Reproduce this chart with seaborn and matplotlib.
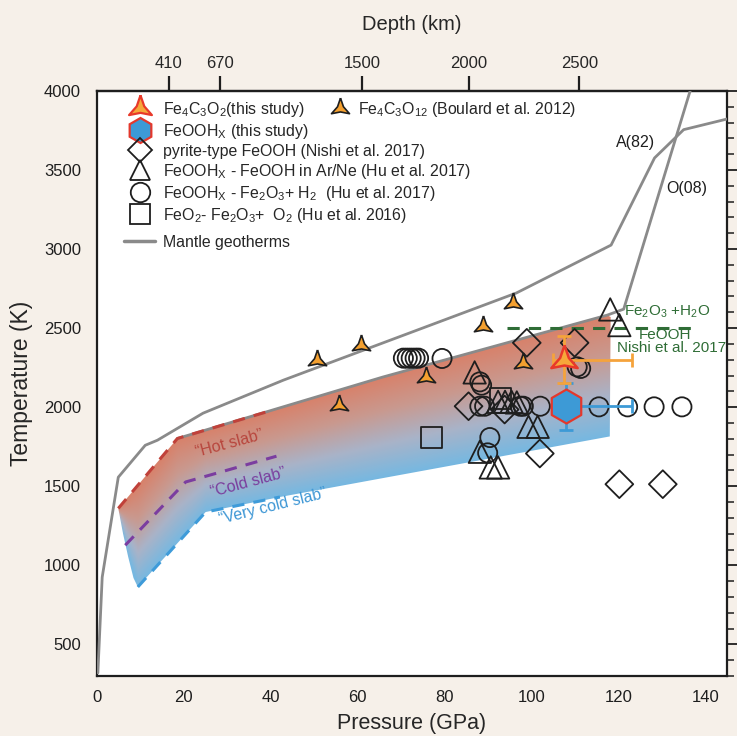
import numpy as np
import pandas as pd
import matplotlib
matplotlib.use("Agg")
import matplotlib.pyplot as plt
import seaborn as sns
from matplotlib.patches import Polygon
from matplotlib.lines import Line2D
from matplotlib.colors import LinearSegmentedColormap
from matplotlib.ticker import MultipleLocator

# ---------------- data ----------------
geo_a_P = [0.2, 1.2, 4.9, 11.1, 13.9, 24.4, 42.9, 96.5, 118.3, 128.3, 135.0, 146.0]
geo_a_T = [320, 925, 1557, 1759, 1791, 1962, 2171, 2722, 3025, 3576, 3755, 3829]
geo_o_P = [18.5, 65.7, 117.4, 121.2, 136.6]
geo_o_T = [1802, 2190, 2582, 2620, 4010]

hot_P = [4.9, 18.5, 39.0]
hot_T = [1360, 1802, 1970]
cold_P = [6.5, 20.4, 41.3]
cold_T = [1127, 1527, 1690]
vcold_P = [9.4, 25.0, 42.1]
vcold_T = [863, 1337, 1432]

# slab-region outline (clockwise from hot-slab start)
shade_P = [4.9, 18.5, 65.7, 117.4, 118.2, 118.0, 42.1, 25.0, 9.4, 8.4, 7.2, 6.0]
shade_T = [1360, 1802, 2190, 2582, 2570, 1815, 1432, 1337, 863, 920, 1051, 1200]

boulard_P = [50.6, 60.8, 55.6, 75.7, 88.9, 95.8, 98.0]
boulard_T = [2297, 2392, 2013, 2192, 2513, 2656, 2277]

fe4c3o2_P = [107.5]
fe4c3o2_T = [2300]
fe4c3o2_xerr = [[2.5], [15.5]]
fe4c3o2_yerr = [[150], [150]]

feoohx_P = [108.0]
feoohx_T = [2006]
feoohx_xerr = [[2.0], [15.0]]
feoohx_yerr = [[150], [150]]

nishi_P = [98.9, 109.9, 85.5, 93.8, 101.9, 120.2, 130.2]
nishi_T = [2407, 2407, 2006, 1985, 1707, 1513, 1513]

hu_arne_P = [118.1, 120.2, 86.9, 92.3, 93.9, 95.4, 96.6, 99.3, 101.4, 88.1, 90.6, 92.3]
hu_arne_T = [2618, 2519, 2220, 2034, 2034, 2034, 2030, 1876, 1876, 1718, 1619, 1619]

hu_h2_P = [70.5, 71.4, 72.3, 73.2, 74.0, 79.4, 88.1, 88.5, 88.1, 89.2, 97.4, 98.1,
           102.0, 90.4, 89.9, 110.5, 111.3, 115.5, 122.1, 128.2, 134.6]
hu_h2_T = [2310, 2310, 2310, 2310, 2310, 2308, 2160, 2139, 2006, 2006, 2006, 2006,
           2006, 1808, 1711, 2255, 2245, 2002, 2002, 2002, 2002]

hu16_P = [76.9, 92.9]
hu16_T = [1808, 2055]

nishi_line_P = [94.3, 137.6]
nishi_line_T = [2500, 2500]

depth_km = ["410", "670", "1500", "2000", "2500"]
depth_P = [16.5, 28.3, 61.0, 85.5, 111.0]

# ---------------- style ----------------
sns.set_style("white")
plt.rcParams["font.family"] = ["Liberation Sans", "DejaVu Sans"]
plt.rcParams["mathtext.default"] = "regular"

BG = "#f6f0e9"
fig = plt.figure(figsize=(7.37, 7.36), dpi=100, facecolor=BG)
ax = fig.add_axes([0.1316, 0.0815, 0.855, 0.795])
ax.set_facecolor("white")

# three-pointed concave star marker
ang = np.deg2rad(np.arange(6) * 60 + 90)
rad = np.array([1.0, 0.33] * 3)
star3 = list(zip(rad * np.cos(ang), rad * np.sin(ang)))
star3.append(star3[0])

# ---------------- gradient slab region ----------------
gx = np.linspace(4, 119, 300)
gy = np.linspace(800, 2650, 300)
GX, GY = np.meshgrid(gx, gy)
top_b = np.interp(GX, [4.9, 18.5, 65.7, 117.4, 119], [1360, 1802, 2190, 2582, 2590])
bot_b = np.interp(GX, [4.9, 7.2, 9.4, 25.0, 42.1, 118.0, 119], [1300, 1051, 863, 1337, 1432, 1815, 1820])
frac = np.clip((GY - bot_b) / np.maximum(top_b - bot_b, 1), 0, 1)
cmap = LinearSegmentedColormap.from_list("slab", ["#76b8e1", "#a9b3c8", "#c9998f", "#d8816a"])
im = ax.imshow(frac, extent=(gx[0], gx[-1], gy[0], gy[-1]), origin="lower",
               cmap=cmap, aspect="auto", zorder=1, interpolation="bilinear")
poly = Polygon(np.column_stack([shade_P, shade_T]), closed=True, fc="none", ec="none",
               transform=ax.transData)
ax.add_patch(poly)
im.set_clip_path(poly)

# ---------------- geotherms ----------------
gray = "#8a8a8a"
sns.lineplot(x=geo_a_P, y=geo_a_T, sort=False, estimator=None, ax=ax, color=gray, lw=2, zorder=3)
sns.lineplot(x=geo_o_P, y=geo_o_T, sort=False, estimator=None, ax=ax, color=gray, lw=2, zorder=3)

# slab dashed lines
for P, T, c in [(hot_P, hot_T, "#c0413a"), (cold_P, cold_T, "#7b3da0"), (vcold_P, vcold_T, "#3e9bd9")]:
    sns.lineplot(x=P, y=T, sort=False, estimator=None, ax=ax, color=c, lw=2.2,
                 dashes=False, zorder=4).lines[-1].set_dashes([4, 3])

# Nishi boundary
ln = sns.lineplot(x=nishi_line_P, y=nishi_line_T, sort=False, estimator=None, ax=ax,
                  color="#2f6d36", lw=2.2, zorder=4).lines[-1]
ln.set_dashes([4, 3])

# ---------------- points ----------------
edge = "#1e1e1e"
sns.scatterplot(x=hu_h2_P, y=hu_h2_T, marker="o", s=190, facecolor="none", edgecolor=edge,
                linewidth=1.3, ax=ax, zorder=5)
sns.scatterplot(x=nishi_P, y=nishi_T, marker="D", s=200, facecolor="none", edgecolor=edge,
                linewidth=1.3, ax=ax, zorder=5)
sns.scatterplot(x=hu_arne_P, y=hu_arne_T, marker="^", s=260, facecolor="none", edgecolor=edge,
                linewidth=1.3, ax=ax, zorder=5)
sns.scatterplot(x=hu16_P, y=hu16_T, marker="s", s=230, facecolor="none", edgecolor=edge,
                linewidth=1.3, ax=ax, zorder=5)
sns.scatterplot(x=boulard_P, y=boulard_T, marker=star3, s=230, facecolor="#f4a02f", edgecolor=edge,
                linewidth=1.2, ax=ax, zorder=6)

ax.errorbar(feoohx_P, feoohx_T, xerr=feoohx_xerr, yerr=feoohx_yerr, fmt="none",
            ecolor="#3d9ad6", elinewidth=2, capsize=5, capthick=2, zorder=6)
ax.errorbar(fe4c3o2_P, fe4c3o2_T, xerr=fe4c3o2_xerr, yerr=fe4c3o2_yerr, fmt="none",
            ecolor="#f5a33c", elinewidth=2, capsize=5, capthick=2, zorder=6)
sns.scatterplot(x=feoohx_P, y=feoohx_T, marker="h", s=600, facecolor="#3d9ad6",
                edgecolor="#e4382c", linewidth=1.6, ax=ax, zorder=7)
sns.scatterplot(x=fe4c3o2_P, y=fe4c3o2_T, marker=star3, s=480, facecolor="#f6a83a",
                edgecolor="#e8392a", linewidth=1.8, ax=ax, zorder=8)

# ---------------- text ----------------
ax.text(124.0, 3672, "A(82)", fontsize=11.5, ha="center", va="center", color="#1e1e1e")
ax.text(135.6, 3384, "O(08)", fontsize=11.5, ha="center", va="center", color="#1e1e1e")
g = "#2f6d36"
ax.text(131.3, 2600, r"Fe$_2$O$_3$ +H$_2$O", fontsize=11, ha="center", va="center", color=g, zorder=9)
ax.text(130.8, 2458, "FeOOH", fontsize=11, ha="center", va="center", color=g, zorder=9)
ax.text(132.2, 2374, "Nishi et al. 2017", fontsize=11, ha="center", va="center", color=g, zorder=9)
ax.text(30.4, 1772, "\u201cHot slab\u201d", fontsize=11.5, rotation=15, ha="center", va="center", color="#b8463d")
ax.text(34.8, 1525, "\u201cCold slab\u201d", fontsize=11.5, rotation=15, ha="center", va="center", color="#7a3d9d")
ax.text(40.5, 1372, "\u201cVery cold slab\u201d", fontsize=11.5, rotation=14, ha="center", va="center", color="#3e97d5")

# ---------------- axes ----------------
ax.set_xlim(0, 145)
ax.set_ylim(300, 4000)
ax.xaxis.set_major_locator(MultipleLocator(20))
ax.xaxis.set_minor_locator(MultipleLocator(2))
ax.yaxis.set_major_locator(MultipleLocator(500))
ax.yaxis.set_minor_locator(MultipleLocator(100))
ax.set_yticks([500, 1000, 1500, 2000, 2500, 3000, 3500, 4000])
ax.tick_params(axis="both", which="major", direction="out", length=8, width=1.3,
               labelsize=12, color="#1e1e1e", labelcolor="#1e1e1e")
ax.tick_params(axis="x", which="major", pad=2)
ax.tick_params(axis="both", which="minor", direction="out", length=4, width=1.1, color="#1e1e1e")
ax.tick_params(axis="y", which="both", right=True, labelright=False)
ax.tick_params(axis="y", which="minor", length=5)
ax.tick_params(axis="x", which="both", top=False)
for s in ax.spines.values():
    s.set_linewidth(1.6)
    s.set_color("#1e1e1e")
ax.set_xlabel("Pressure (GPa)", fontsize=15.5, labelpad=6)
ax.set_ylabel("Temperature (K)", fontsize=16.5, labelpad=8)

sec = ax.secondary_xaxis("top")
sec.set_xticks(depth_P)
sec.set_xticklabels(depth_km)
sec.tick_params(direction="out", length=11, width=1.6, labelsize=12, color="#1e1e1e", pad=3)
sec.spines["top"].set_linewidth(1.6)
sec.set_xlabel("Depth (km)", fontsize=14.5, labelpad=19)

# ---------------- legend ----------------
hs = [
    Line2D([], [], ls="none", marker=star3, ms=19, mfc="#f6a83a", mec="#e8392a", mew=1.6),
    Line2D([], [], ls="none", marker="h", ms=18, mfc="#3d9ad6", mec="#e4382c", mew=1.6),
    Line2D([], [], ls="none", marker="D", ms=12, mfc="none", mec=edge, mew=1.3),
    Line2D([], [], ls="none", marker="^", ms=15, mfc="none", mec=edge, mew=1.3),
    Line2D([], [], ls="none", marker="o", ms=14, mfc="none", mec=edge, mew=1.3),
    Line2D([], [], ls="none", marker="s", ms=14, mfc="none", mec=edge, mew=1.3),
]
labs = [
    r"Fe$_4$C$_3$O$_2$(this study)",
    r"FeOOH$_X$ (this study)",
    "pyrite-type FeOOH (Nishi et al. 2017)",
    r"FeOOH$_X$ - FeOOH in Ar/Ne (Hu et al. 2017)",
    r"FeOOH$_X$ - Fe$_2$O$_3$+ H$_2$  (Hu et al. 2017)",
    r"FeO$_2$- Fe$_2$O$_3$+  O$_2$ (Hu et al. 2016)",
]
leg = ax.legend(hs, labs, loc="upper left", bbox_to_anchor=(0.025, 1.004), frameon=False,
                fontsize=11.4, handlelength=2.0, handletextpad=0.45, labelspacing=0.19,
                borderaxespad=0.3)
ax.add_artist(leg)
leg2 = ax.legend([Line2D([], [], color=gray, lw=2.5)], ["Mantle geotherms"], loc="upper left",
                 bbox_to_anchor=(0.025, 0.773), frameon=False, fontsize=11.4, handlelength=2.0,
                 handletextpad=0.45, borderaxespad=0.3)
ax.add_artist(leg2)
hb = [Line2D([], [], ls="none", marker=star3, ms=15, mfc="#f4a02f", mec=edge, mew=1.2)]
ax.legend(hb, [r"Fe$_4$C$_3$O$_{12}$ (Boulard et al. 2012)"], loc="upper left",
          bbox_to_anchor=(0.351, 1.004), frameon=False, fontsize=11.4, handlelength=1.4,
          handletextpad=0.4, borderaxespad=0.3)

fig.savefig("out.png", dpi=100, facecolor=BG)
